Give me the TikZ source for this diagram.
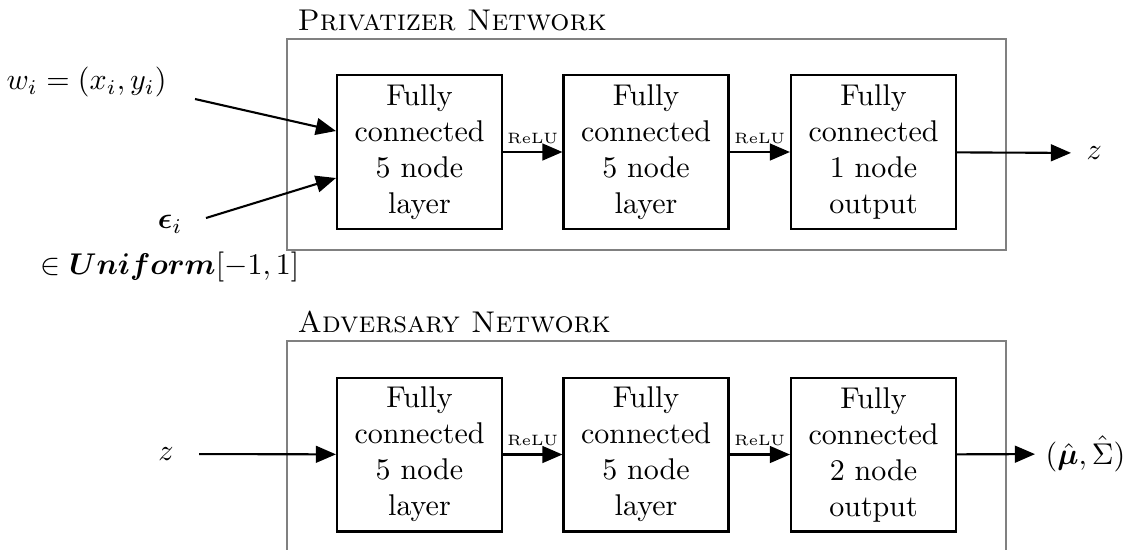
\documentclass[tikz,border=0pt]{standalone}
\usepackage{amsmath,bm}
\usetikzlibrary{arrows.meta,calc}
\begin{document}
\begin{tikzpicture}[x=0.3333pt,y=-0.3333pt,
  layerbox/.style={draw, line width=0.7pt, minimum width=55pt,
    minimum height=51.3pt, align=center, inner sep=0pt,
    font=\fontsize{10}{12}\selectfont},
  netframe/.style={draw=black!50, line width=0.6pt, minimum width=239.7pt,
    minimum height=70.3pt, inner sep=0pt},
  nettitle/.style={anchor=base west, inner sep=0pt},
  flow/.style={-{Triangle[length=6.7pt,width=5.6pt]}, line width=0.7pt},
  act/.style={above, inner sep=2.5pt, font=\tiny}]
\clip (0,0) rectangle (1132,549);

% ---------- Privatizer network ----------
\node[netframe] (pf) at (646.5,144.5) {};
\node[nettitle] (ptitle) at ($(pf.north west)+(11,-8)$) {\textsc{Privatizer Network}};

\node[layerbox] (p1) at (419.5,152) {Fully\\connected\\5 node\\layer};
\node[layerbox] (p2) at (646,152)   {Fully\\connected\\5 node\\layer};
\node[layerbox] (p3) at (873.5,152) {Fully\\connected\\1 node\\output};

\draw[flow] (p1) -- node[act] {ReLU} (p2);
\draw[flow] (p2) -- node[act] {ReLU} (p3);

\node[anchor=west, inner sep=0pt, inner xsep=5pt] (zout) at (1071,153) {$z$};
\draw[flow] (p3) -- (zout);

% inputs
\node (w) at (86.5,82) {$w_i = (x_i, y_i)$};
\coordinate (wstart) at (195,99);
\draw[flow] (wstart) -- ($(p1.west)+(0,-21)$);

\node[align=center] (eps) at (170,249) {$\bm{\epsilon}_i$\\[3.3pt]$\in \bm{Uniform}[-1,1]$};
\coordinate (estart) at (206,218);
\draw[flow] (estart) -- ($(p1.west)+(0,26)$);

% ---------- Adversary network ----------
\node[netframe] (af) at (646.5,446.5) {};
\node[nettitle] (atitle) at ($(af.north west)+(11,-8)$) {\textsc{Adversary Network}};

\node[layerbox] (a1) at (419.5,454.5) {Fully\\connected\\5 node\\layer};
\node[layerbox] (a2) at (646,454.5)   {Fully\\connected\\5 node\\layer};
\node[layerbox] (a3) at (873.5,454.5) {Fully\\connected\\2 node\\output};

\draw[flow] (a1) -- node[act] {ReLU} (a2);
\draw[flow] (a2) -- node[act] {ReLU} (a3);

\node (zin) at (166,454) {$z$};
\draw[flow, shorten <=5pt] (zin) -- (a1);

\node[anchor=west] (out) at (1035,454) {$(\hat{\bm{\mu}}, \hat{\Sigma})$};
\draw[flow] (a3) -- (out);
\end{tikzpicture}
\end{document}
